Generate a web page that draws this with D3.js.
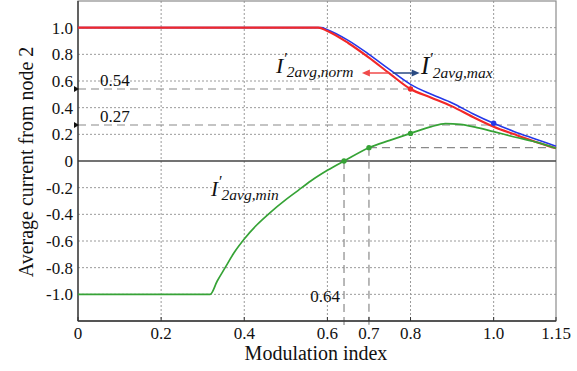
<!DOCTYPE html>
<html>
<head>
<meta charset="utf-8">
<script src="https://cdn.jsdelivr.net/npm/d3@7"></script>
<style>
  html, body { margin: 0; padding: 0; background: #fff; }
  svg { display: block; }
  text { font-family: "Liberation Serif", "Times New Roman", serif; fill: #111; }
</style>
</head>
<body>
<div id="chart"></div>
<script>
// axis ticks
const xTicks = [0, 0.2, 0.4, 0.6, 0.7, 0.8, 1.0, 1.15];
const xTickLabels = ['0', '0.2', '0.4', '0.6', '0.7', '0.8', '1.0', '1.15'];
const xGrid = [0.2, 0.4, 0.6, 0.8, 1.0];
const yTicks = [1.0, 0.8, 0.6, 0.4, 0.2, 0, -0.2, -0.4, -0.6, -0.8, -1.0];
const yTickLabels = ['1.0', '0.8', '0.6', '0.4', '0.2', '0', '-0.2', '-0.4', '-0.6', '-0.8', '-1.0'];

// curves [modulation index, current]
const maxCurve = [[0, 1], [0.585, 1], [0.6, 0.985], [0.65, 0.905], [0.7, 0.8], [0.75, 0.685], [0.8, 0.575],
  [0.85, 0.5], [0.9, 0.435], [0.95, 0.355], [1.0, 0.283], [1.05, 0.22], [1.1, 0.165], [1.15, 0.11]];
const normCurve = [[0, 1], [0.578, 1], [0.6, 0.975], [0.65, 0.885], [0.7, 0.775], [0.75, 0.655], [0.8, 0.54],
  [0.85, 0.475], [0.9, 0.41], [0.95, 0.33], [1.0, 0.257], [1.05, 0.2], [1.1, 0.145], [1.15, 0.095]];
const minCurve = [[0, -1], [0.318, -1], [0.335, -0.9], [0.354, -0.8], [0.375, -0.69], [0.4, -0.585],
  [0.43, -0.48], [0.463, -0.385], [0.5, -0.29], [0.53, -0.22], [0.56, -0.15], [0.6, -0.07], [0.64, 0],
  [0.7, 0.1], [0.75, 0.155], [0.8, 0.207], [0.85, 0.258], [0.884, 0.28], [0.92, 0.275], [0.96, 0.25],
  [1.0, 0.22], [1.05, 0.18], [1.1, 0.143], [1.15, 0.095]];

// marked points
const normDots = [[0.8, 0.54]];
const maxDots = [[1.0, 0.283]];
const minDots = [[0.64, 0], [0.7, 0.1], [0.8, 0.207]];

// dashed guides
const hGuides = [{ y: 0.54, x0: 0, x1: 0.8 }, { y: 0.27, x0: 0, x1: 1.15 }, { y: 0.1, x0: 0.7, x1: 1.15 }];
const vGuides = [{ x: 0.64, y0: 0 }, { x: 0.7, y0: 0.1 }];
const guideLabels = [{ text: '0.54', y: 0.54 }, { text: '0.27', y: 0.27 }];

const W = 577, H = 371;
const pLeft = 78, pRight = 556, pTop = 1, pBottom = 321;
const serif = '"Liberation Serif", "Times New Roman", serif';
const x = d3.scaleLinear().domain([0, 1.15]).range([pLeft, pRight]);
const y = d3.scaleLinear().domain([-1.2, 1.2]).range([pBottom, pTop]);

const svg = d3.select('#chart').append('svg').attr('width', W).attr('height', H).attr('font-family', serif);

// grid
const grid = svg.append('g').attr('stroke', '#9a9a9a').attr('stroke-width', 1).attr('stroke-dasharray', '2,2');
grid.selectAll('line.v').data(xGrid).join('line')
  .attr('x1', (d) => x(d)).attr('x2', (d) => x(d)).attr('y1', pTop).attr('y2', pBottom);
grid.selectAll('line.h').data(yTicks.filter((d) => d !== 0)).join('line')
  .attr('x1', pLeft).attr('x2', pRight).attr('y1', (d) => y(d)).attr('y2', (d) => y(d));

// frame
svg.append('rect').attr('x', pLeft).attr('y', pTop).attr('width', pRight - pLeft).attr('height', pBottom - pTop)
  .attr('fill', 'none').attr('stroke', '#8c8c8c').attr('stroke-width', 1.2);
svg.append('line').attr('x1', pLeft).attr('x2', pRight).attr('y1', y(0)).attr('y2', y(0))
  .attr('stroke', '#444').attr('stroke-width', 1.6);

// dashed guides
const guides = svg.append('g').attr('stroke', '#8a8a8a').attr('stroke-width', 1.2).attr('stroke-dasharray', '8,5');
guides.selectAll('line.h').data(hGuides).join('line')
  .attr('x1', (d) => x(d.x0)).attr('x2', (d) => x(d.x1)).attr('y1', (d) => y(d.y)).attr('y2', (d) => y(d.y));
guides.selectAll('line.v').data(vGuides).join('line')
  .attr('x1', (d) => x(d.x)).attr('x2', (d) => x(d.x)).attr('y1', (d) => y(d.y0)).attr('y2', pBottom + 4);

// axis lines
svg.append('line').attr('x1', pLeft).attr('x2', pLeft).attr('y1', pTop).attr('y2', pBottom).attr('stroke', '#333').attr('stroke-width', 1.3);
svg.append('line').attr('x1', pLeft).attr('x2', pRight).attr('y1', pBottom).attr('y2', pBottom).attr('stroke', '#333').attr('stroke-width', 1.3);
svg.append('g').selectAll('line').data(xTicks).join('line')
  .attr('x1', (d) => x(d)).attr('x2', (d) => x(d)).attr('y1', pBottom).attr('y2', pBottom - 4)
  .attr('stroke', '#333').attr('stroke-width', 1);

// tick labels
svg.append('g').selectAll('text').data(xTicks).join('text')
  .attr('x', (d) => x(d)).attr('y', 339).attr('text-anchor', 'middle').attr('font-size', 17)
  .text((d, i) => xTickLabels[i]);
svg.append('g').selectAll('text').data(yTicks).join('text')
  .attr('x', 73).attr('y', (d) => y(d) + 6).attr('text-anchor', 'end').attr('font-size', 17)
  .text((d, i) => yTickLabels[i]);

// guide labels and left markers
svg.append('g').selectAll('text').data(guideLabels).join('text')
  .attr('x', 100).attr('y', (d) => y(d.y) - 3).attr('font-size', 17).text((d) => d.text);
svg.append('g').selectAll('path').data(guideLabels).join('path')
  .attr('d', (d) => `M${pLeft - 4},${y(d.y) - 3}L${pLeft + 1},${y(d.y)}L${pLeft - 4},${y(d.y) + 3}Z`)
  .attr('fill', '#111');
svg.append('text').attr('x', x(0.64) - 4).attr('y', 302).attr('text-anchor', 'end').attr('font-size', 17).text('0.64');

// curves
const line = d3.line().x((d) => x(d[0])).y((d) => y(d[1])).curve(d3.curveMonotoneX);
const series = [
  { data: maxCurve, dots: maxDots, color: '#2438e8', width: 1.6 },
  { data: normCurve, dots: normDots, color: '#f22828', width: 2.1 },
  { data: minCurve, dots: minDots, color: '#36a336', width: 1.7 }
];
for (const s of series) {
  svg.append('path').datum(s.data).attr('d', line).attr('fill', 'none')
    .attr('stroke', s.color).attr('stroke-width', s.width).attr('stroke-linejoin', 'round');
}
for (const s of series) {
  svg.append('g').selectAll('circle').data(s.dots).join('circle')
    .attr('cx', (d) => x(d[0])).attr('cy', (d) => y(d[1])).attr('r', 2.7).attr('fill', s.color);
}

// annotation arrows
function arrow(x0, x1, yy, color) {
  const dir = Math.sign(x1 - x0);
  svg.append('line').attr('x1', x0).attr('x2', x1 - dir * 6).attr('y1', yy).attr('y2', yy)
    .attr('stroke', color).attr('stroke-width', 1.5);
  svg.append('path').attr('d', `M${x1},${yy}L${x1 - dir * 8},${yy - 3.5}L${x1 - dir * 8},${yy + 3.5}Z`).attr('fill', color);
}
arrow(x(0.747), x(0.683), y(0.66), '#f04a4a');
arrow(x(0.757), x(0.822), y(0.66), '#2a4a82');

// curve labels
function curveLabel(px, py, iSize, sub) {
  const t = svg.append('text').attr('x', px).attr('y', py).attr('font-style', 'italic');
  t.append('tspan').attr('font-size', iSize).text('I');
  t.append('tspan').attr('font-size', 16).attr('dy', -iSize * 0.42).text('′');
  t.append('tspan').attr('font-size', 15.5).attr('dy', iSize * 0.42 + 4).text(sub);
}
curveLabel(276, 73, 22, '2avg,norm');
curveLabel(421, 74, 25, '2avg,max');
curveLabel(211, 196, 21, '2avg,min');

// axis titles
svg.append('text').attr('x', 316).attr('y', 360).attr('text-anchor', 'middle').attr('font-size', 20).text('Modulation index');
svg.append('text').attr('transform', 'translate(33,162) rotate(-90)').attr('text-anchor', 'middle')
  .attr('font-size', 20).text('Average current from node 2');
</script>
</body>
</html>
